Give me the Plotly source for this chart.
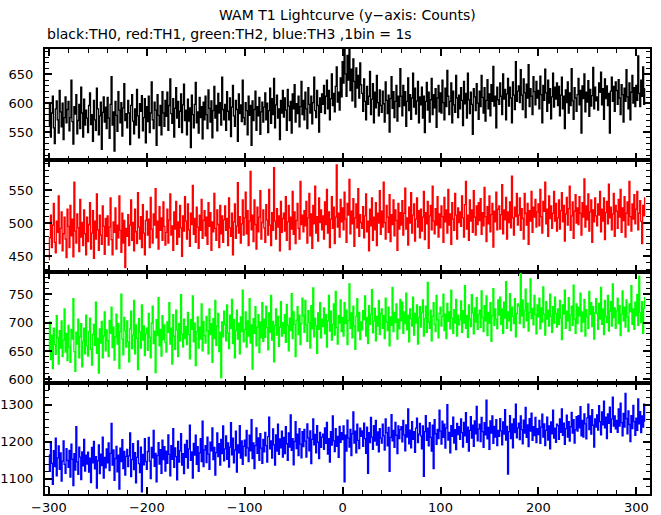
import plotly.graph_objects as go
from plotly.subplots import make_subplots

t_start = -300  # first 1 s bin

th0 = [
560, 598, 541, 583, 612, 557, 530, 590, 604, 571, 548, 622, 585, 559, 600, 537, 575, 611, 566, 589,
603, 552, 575, 640, 568, 529, 594, 581, 615, 547, 570, 598, 556, 628, 583, 541, 607, 562, 588, 574,
549, 596, 618, 563, 580, 534, 605, 571, 553, 626, 590, 545, 578, 602, 520, 584, 611, 567, 593, 556,
610, 574, 539, 598, 646, 562, 585, 517, 603, 579, 551, 620, 588, 566, 601, 543, 592, 634, 570, 582,
557, 605, 583, 528, 596, 615, 569, 547, 590, 562, 624, 578, 540, 599, 586, 613, 552, 575, 608, 531,
594, 568, 612, 549, 583, 637, 571, 556, 602, 588, 527, 615, 579, 561, 596, 545, 620, 583, 560, 605,
577, 619, 553, 596, 642, 582, 565, 608, 541, 591, 627, 574, 603, 558, 586, 616, 549, 597, 633, 570,
588, 545, 607, 569, 592, 523, 614, 580, 557, 598, 636, 566, 585, 548, 610, 575, 594, 538, 602, 571,
612, 580, 556, 623, 591, 567, 604, 540, 587, 629, 574, 596, 552, 617, 583, 601, 562, 645, 589, 571,
598, 553, 620, 586, 571, 609, 542, 593, 631, 578, 560, 605, 589, 534, 616, 582, 597, 568, 640, 575,
563, 601, 587, 545, 612, 579, 596, 527, 604, 570, 589, 621, 553, 594, 578, 610, 546, 585, 602, 567,
593, 618, 571, 600, 549, 587, 626, 565, 608, 580, 643, 557, 597, 614, 574, 590, 537, 605, 583, 622,
576, 609, 588, 553, 624, 595, 570, 603, 548, 616, 590, 632, 567, 599, 582, 612, 559, 594, 638, 580,
605, 571, 619, 590, 556, 627, 598, 583, 612, 564, 601, 645, 587, 575, 622, 596, 550, 609, 584, 616,
598, 631, 582, 612, 640, 590, 622, 571, 608, 651, 596, 617, 585, 629, 663, 602, 619, 588, 644, 611,
672, 635, 698, 651, 612, 683, 640, 700, 622, 659, 604, 677, 638, 593, 661, 626, 648, 609, 670, 632,
617, 586, 642, 603, 571, 629, 598, 612, 655, 580, 607, 634, 566, 619, 592, 648, 601, 578, 623, 596,
584, 621, 599, 567, 637, 605, 582, 614, 550, 608, 646, 591, 620, 575, 603, 631, 569, 612, 594, 660,
612, 578, 631, 596, 620, 560, 603, 644, 587, 615, 572, 609, 652, 593, 626, 581, 604, 638, 566, 611,
597, 628, 574, 612, 549, 603, 636, 588, 619, 567, 606, 643, 580, 615, 592, 625, 558, 609, 631, 585,
618, 583, 640, 601, 571, 626, 594, 657, 612, 580, 603, 635, 566, 621, 597, 584, 648, 609, 575, 614,
590, 627, 605, 561, 638, 599, 617, 574, 652, 606, 582, 619, 598, 546, 625, 611, 587, 634, 600, 572,
621, 594, 648, 610, 583, 627, 569, 605, 641, 590, 616, 578, 632, 603, 664, 595, 612, 557, 628, 606,
598, 635, 612, 580, 651, 607, 624, 571, 616, 643, 595, 628, 609, 566, 637, 614, 589, 672, 603, 621,
630, 601, 658, 614, 589, 642, 618, 575, 633, 609, 667, 594, 625, 612, 580, 646, 620, 597, 638, 609,
622, 590, 647, 615, 566, 631, 605, 659, 618, 586, 640, 600, 625, 573, 611, 652, 593, 628, 607, 635,
596, 629, 578, 614, 645, 590, 612, 556, 623, 601, 637, 583, 618, 596, 660, 604, 572, 627, 609, 586,
615, 643, 597, 622, 548, 630, 608, 651, 585, 619, 602, 639, 577, 624, 595, 613, 662, 590, 628, 604,
611, 588, 635, 619, 654, 597, 625, 572, 642, 608, 630, 596, 617, 548, 621, 645, 603, 629, 586, 637,
622, 598, 641, 609, 580, 632, 615, 567, 626, 603, 658, 611, 590, 635, 571, 619, 648, 600, 627, 594,
631, 605, 682, 617, 594, 640, 612, 663, 598, 625,
]

th1 = [
445, 478, 512, 463, 497, 530, 471, 455, 503, 486, 541, 469, 492, 517, 458, 484, 509, 476, 448, 521,
495, 463, 527, 481, 506, 449, 562, 488, 470, 514, 493, 457, 536, 479, 501, 466, 520, 484, 452, 509,
472, 498, 531, 461, 485, 519, 447, 503, 476, 544, 490, 459, 512, 482, 468, 526, 495, 453, 507, 480,
511, 467, 494, 538, 475, 452, 502, 486, 523, 461, 497, 478, 541, 489, 456, 515, 470, 504, 433, 492,
480, 513, 466, 497, 535, 474, 501, 458, 521, 487, 469, 546, 494, 476, 510, 463, 528, 485, 452, 504,
518, 482, 506, 463, 539, 491, 470, 514, 497, 552, 478, 503, 461, 525, 489, 508, 474, 532, 495, 467,
486, 521, 470, 505, 544, 482, 496, 459, 517, 491, 533, 468, 502, 479, 527, 493, 450, 511, 488, 540,
503, 476, 529, 490, 465, 515, 498, 557, 483, 507, 471, 524, 494, 462, 512, 489, 536, 477, 504, 519,
481, 509, 468, 531, 495, 516, 459, 502, 487, 545, 492, 474, 520, 498, 463, 527, 484, 511, 471, 505,
526, 489, 507, 466, 538, 493, 480, 515, 452, 502, 529, 477, 496, 561, 485, 510, 470, 499, 535, 482,
508, 547, 484, 519, 466, 503, 578, 490, 512, 472, 535, 498, 461, 524, 487, 509, 549, 476, 501, 520,
493, 471, 528, 505, 482, 551, 497, 466, 516, 489, 584, 503, 476, 522, 494, 511, 458, 533, 486, 507,
515, 488, 540, 474, 502, 527, 460, 509, 491, 548, 483, 517, 469, 504, 530, 492, 476, 563, 498, 512,
487, 519, 496, 533, 470, 508, 545, 481, 514, 462, 527, 499, 556, 485, 510, 473, 538, 501, 520, 490,
511, 476, 532, 498, 551, 485, 517, 463, 506, 540, 492, 524, 469, 509, 588, 494, 515, 479, 536, 502,
523, 490, 547, 506, 471, 530, 512, 566, 484, 518, 499, 537, 465, 508, 529, 493, 552, 480, 513, 501,
492, 525, 478, 511, 544, 487, 503, 458, 521, 496, 538, 474, 509, 490, 531, 466, 515, 500, 549, 483,
518, 494, 562, 501, 476, 527, 509, 486, 543, 472, 513, 498, 535, 481, 520, 504, 459, 530, 491, 516,
497, 534, 482, 515, 553, 491, 508, 467, 524, 500, 546, 485, 512, 529, 473, 506, 538, 494, 519, 478,
521, 488, 509, 548, 475, 516, 499, 533, 462, 511, 527, 490, 556, 503, 484, 522, 497, 540, 479, 514,
493, 526, 510, 471, 539, 502, 520, 485, 551, 497, 514, 468, 531, 506, 489, 545, 512, 476, 523, 501,
517, 495, 541, 508, 479, 528, 563, 491, 512, 474, 535, 503, 520, 486, 549, 509, 482, 526, 498, 531,
504, 537, 483, 516, 496, 554, 510, 472, 525, 499, 541, 487, 513, 530, 464, 518, 502, 547, 490, 521,
526, 491, 513, 558, 484, 520, 505, 539, 476, 517, 501, 532, 493, 571, 508, 482, 524, 510, 545, 497,
512, 538, 489, 522, 507, 476, 545, 515, 497, 530, 468, 519, 503, 548, 486, 524, 509, 536, 494, 517,
529, 496, 551, 510, 485, 533, 518, 562, 499, 521, 480, 541, 507, 526, 492, 515, 548, 503, 530, 488,
508, 535, 491, 519, 546, 502, 527, 473, 514, 539, 497, 522, 556, 489, 511, 532, 477, 518, 543, 500,
523, 498, 540, 515, 482, 531, 509, 567, 494, 526, 505, 544, 488, 517, 535, 471, 520, 502, 538, 511,
496, 529, 512, 548, 487, 521, 503, 538, 475, 516, 533, 499, 559, 508, 524, 490, 514, 545, 480, 527,
518, 492, 536, 509, 551, 486, 523, 504, 540, 479, 515, 532, 497, 563, 510, 488, 529, 506, 543, 499,
521, 548, 490, 515, 534, 503, 469, 527, 511, 538,
]

th2 = [
652, 701, 635, 678, 619, 690, 661, 644, 712, 673, 627, 686, 655, 703, 640, 669, 724, 648, 681, 633,
695, 657, 630, 688, 671, 742, 649, 614, 683, 662, 706, 638, 675, 698, 622, 667, 690, 645, 713, 659,
641, 684, 708, 653, 625, 679, 697, 660, 736, 646, 672, 611, 689, 664, 702, 638, 676, 719, 650, 687,
668, 640, 704, 681, 727, 656, 692, 634, 675, 715, 662, 698, 619, 684, 750, 671, 643, 709, 686, 657,
703, 666, 631, 689, 720, 654, 678, 739, 645, 696, 672, 617, 707, 683, 655, 731, 669, 694, 642, 680,
690, 651, 716, 674, 638, 699, 729, 663, 685, 612, 705, 677, 744, 659, 688, 641, 712, 670, 696, 665,
648, 701, 683, 735, 662, 690, 627, 714, 676, 653, 722, 687, 640, 698, 668, 749, 680, 657, 706, 672,
693, 661, 718, 679, 636, 705, 688, 747, 666, 699, 624, 684, 710, 655, 692, 671, 733, 650, 702, 677,
664, 711, 686, 645, 724, 679, 698, 630, 707, 672, 739, 660, 694, 716, 649, 683, 603, 701, 675, 720,
697, 668, 731, 682, 654, 713, 690, 741, 663, 705, 638, 686, 722, 671, 699, 645, 710, 684, 757, 666,
688, 719, 657, 703, 676, 742, 664, 696, 618, 707, 681, 728, 659, 692, 714, 647, 701, 673, 735, 667,
706, 674, 729, 691, 652, 717, 683, 748, 669, 702, 631, 695, 724, 678, 711, 658, 692, 737, 676, 700,
681, 714, 665, 732, 695, 650, 708, 686, 751, 672, 719, 697, 640, 704, 728, 679, 713, 661, 698, 743,
712, 683, 739, 696, 667, 721, 700, 655, 730, 689, 761, 675, 708, 694, 646, 717, 688, 735, 673, 706,
693, 726, 680, 714, 657, 703, 748, 685, 720, 669, 697, 733, 678, 755, 691, 662, 712, 699, 740, 684,
709, 676, 735, 698, 722, 661, 704, 768, 690, 717, 673, 729, 694, 653, 711, 742, 685, 718, 670, 701,
687, 721, 705, 747, 676, 709, 663, 730, 697, 715, 758, 682, 703, 725, 668, 711, 694, 739, 679, 716,
724, 690, 712, 672, 743, 701, 686, 727, 659, 710, 695, 762, 684, 718, 700, 733, 671, 706, 689, 741,
703, 736, 681, 719, 698, 752, 687, 713, 666, 724, 707, 694, 745, 678, 716, 699, 731, 662, 709, 728,
692, 718, 740, 676, 707, 729, 683, 771, 701, 690, 722, 668, 711, 735, 697, 684, 748, 705, 673, 716,
727, 694, 711, 750, 686, 715, 672, 734, 702, 719, 689, 757, 708, 681, 723, 699, 741, 676, 713, 696,
705, 738, 683, 721, 699, 765, 690, 712, 674, 731, 706, 693, 749, 717, 680, 726, 701, 744, 688, 714,
722, 691, 756, 709, 684, 730, 703, 747, 677, 718, 699, 735, 667, 712, 760, 695, 724, 706, 689, 740,
713, 745, 697, 724, 681, 736, 708, 772, 690, 719, 703, 751, 686, 727, 711, 698, 742, 675, 716, 733,
729, 698, 786, 712, 740, 691, 721, 759, 703, 734, 685, 718, 777, 707, 725, 696, 748, 714, 680, 731,
710, 743, 689, 726, 701, 763, 715, 678, 737, 706, 722, 694, 750, 711, 683, 728, 699, 745, 716, 692,
724, 697, 739, 708, 670, 731, 715, 757, 690, 720, 703, 744, 686, 713, 729, 695, 766, 706, 681, 733,
698, 727, 712, 752, 684, 719, 701, 741, 676, 723, 710, 690, 755, 714, 735, 693, 728, 671, 717, 742,
716, 688, 734, 706, 762, 697, 724, 679, 739, 711, 700, 748, 685, 720, 737, 694, 768, 709, 726, 690,
721, 743, 698, 730, 677, 715, 756, 703, 727, 692, 740, 710, 684, 733, 719, 765, 697, 724, 688, 736,
712, 749, 695, 782, 718, 700, 737, 681, 725, 744,
]

th3 = [
1165, 1120, 1198, 1142, 1085, 1176, 1133, 1210, 1108, 1157, 1189, 1126, 1170, 1094, 1148, 1203, 1139, 1115, 1182, 1150,
1131, 1177, 1105, 1194, 1153, 1082, 1168, 1124, 1241, 1146, 1112, 1186, 1159, 1098, 1173, 1135, 1207, 1121, 1164, 1140,
1172, 1118, 1156, 1090, 1185, 1143, 1201, 1127, 1160, 1075, 1149, 1192, 1114, 1167, 1136, 1213, 1102, 1158, 1130, 1181,
1143, 1197, 1122, 1169, 1250, 1137, 1178, 1096, 1155, 1188, 1119, 1164, 1072, 1183, 1147, 1206, 1128, 1174, 1110, 1161,
1180, 1133, 1162, 1224, 1106, 1152, 1195, 1125, 1171, 1089, 1158, 1203, 1141, 1117, 1186, 1065, 1166, 1138, 1209, 1147,
1126, 1174, 1212, 1148, 1101, 1185, 1157, 1231, 1134, 1169, 1092, 1163, 1198, 1140, 1179, 1115, 1205, 1152, 1187, 1121,
1175, 1142, 1219, 1166, 1108, 1190, 1153, 1236, 1131, 1184, 1160, 1097, 1201, 1145, 1176, 1222, 1137, 1168, 1114, 1193,
1158, 1204, 1129, 1181, 1245, 1150, 1173, 1102, 1196, 1164, 1218, 1139, 1187, 1120, 1170, 1209, 1147, 1256, 1133, 1178,
1190, 1144, 1213, 1167, 1126, 1199, 1176, 1238, 1152, 1185, 1110, 1171, 1224, 1160, 1195, 1137, 1207, 1168, 1243, 1149,
1181, 1216, 1153, 1197, 1132, 1186, 1252, 1165, 1210, 1143, 1178, 1229, 1118, 1192, 1170, 1244, 1156, 1203, 1139, 1188,
1205, 1162, 1231, 1184, 1147, 1218, 1176, 1260, 1155, 1197, 1128, 1190, 1238, 1169, 1211, 1150, 1222, 1183, 1142, 1207,
1173, 1226, 1190, 1145, 1214, 1267, 1181, 1203, 1156, 1235, 1192, 1137, 1219, 1175, 1248, 1166, 1208, 1184, 1229, 1159,
1212, 1168, 1241, 1195, 1150, 1224, 1186, 1273, 1177, 1209, 1138, 1201, 1255, 1182, 1221, 1163, 1236, 1194, 1157, 1228,
1187, 1234, 1202, 1159, 1249, 1211, 1176, 1230, 1141, 1207, 1262, 1192, 1220, 1170, 1244, 1199, 1155, 1226, 1185, 1213,
1221, 1180, 1238, 1196, 1253, 1167, 1209, 1145, 1228, 1191, 1270, 1203, 1174, 1236, 1188, 1215, 1158, 1242, 1199, 1225,
1206, 1243, 1092, 1218, 1175, 1259, 1210, 1186, 1234, 1163, 1222, 1281, 1197, 1229, 1170, 1248, 1204, 1182, 1237, 1215,
1230, 1188, 1251, 1209, 1169, 1240, 1115, 1225, 1198, 1266, 1213, 1180, 1244, 1202, 1258, 1191, 1227, 1173, 1236, 1210,
1197, 1248, 1216, 1178, 1262, 1225, 1189, 1239, 1120, 1212, 1274, 1203, 1231, 1185, 1253, 1218, 1168, 1243, 1209, 1233,
1241, 1200, 1258, 1219, 1176, 1246, 1213, 1289, 1195, 1232, 1184, 1255, 1207, 1228, 1172, 1237, 1264, 1198, 1221, 1250,
1216, 1181, 1243, 1107, 1228, 1271, 1204, 1237, 1189, 1252, 1212, 1175, 1245, 1128, 1260, 1222, 1193, 1234, 1209, 1286,
1229, 1194, 1256, 1212, 1248, 1183, 1237, 1301, 1205, 1226, 1170, 1244, 1215, 1267, 1197, 1233, 1179, 1250, 1220, 1241,
1207, 1262, 1225, 1186, 1253, 1216, 1279, 1199, 1240, 1175, 1231, 1268, 1210, 1245, 1188, 1257, 1222, 1296, 1203, 1235,
1248, 1201, 1266, 1228, 1185, 1252, 1219, 1313, 1208, 1239, 1180, 1257, 1224, 1270, 1196, 1242, 1213, 1260, 1190, 1231,
1215, 1263, 1230, 1192, 1254, 1221, 1287, 1205, 1242, 1113, 1228, 1271, 1209, 1249, 1184, 1262, 1225, 1302, 1211, 1238,
1251, 1206, 1270, 1233, 1195, 1259, 1224, 1293, 1212, 1246, 1187, 1263, 1229, 1278, 1204, 1241, 1217, 1266, 1198, 1236,
1220, 1258, 1196, 1240, 1275, 1213, 1249, 1190, 1231, 1267, 1205, 1243, 1181, 1254, 1222, 1286, 1210, 1237, 1199, 1248,
1244, 1207, 1262, 1226, 1289, 1218, 1251, 1193, 1236, 1272, 1213, 1255, 1202, 1241, 1280, 1224, 1260, 1197, 1233, 1268,
1229, 1271, 1238, 1295, 1216, 1258, 1213, 1276, 1249, 1208, 1265, 1302, 1233, 1270, 1221, 1287, 1245, 1186, 1262, 1240,
1273, 1232, 1298, 1255, 1219, 1281, 1246, 1310, 1238, 1267, 1209, 1276, 1250, 1294, 1226, 1262, 1321, 1243, 1270, 1235,
1258, 1226, 1289, 1243, 1305, 1252, 1216, 1277, 1240, 1331, 1263, 1222, 1284, 1247, 1201, 1271, 1236, 1299, 1255, 1218,
1264, 1231, 1316, 1249, 1282, 1225, 1270, 1240, 1302, 1256,
]

series = [th0, th1, th2, th3]
colors = ["#000000", "#ff0000", "#00ff00", "#0000ff"]
y_ranges = [[501, 694], [427, 595], [594, 790], [1059, 1360]]
y_dtick = [50, 50, 50, 100]
y_minor = [10, 10, 10, 20]

title_text = "WAM T1 Lightcurve (y\u2212axis: Counts)"
subtitle_text = "black:TH0, red:TH1, green:TH2, blue:TH3 ,1bin = 1s"

FONT = "DejaVu Sans, Liberation Sans, Arial, sans-serif"

fig = make_subplots(rows=4, cols=1, shared_xaxes=True, vertical_spacing=0)

for i, (ys, col) in enumerate(zip(series, colors)):
    xs = list(range(t_start, t_start + len(ys)))
    fig.add_trace(go.Scatter(x=xs, y=ys, mode="lines", line=dict(color=col, width=1.3, shape="hvh"),
                             showlegend=False, hoverinfo="skip"), row=i + 1, col=1)
    fig.update_yaxes(range=y_ranges[i], dtick=y_dtick[i], row=i + 1, col=1,
                     minor=dict(ticks="inside", dtick=y_minor[i], ticklen=4, tickwidth=1,
                                tickcolor="black", showgrid=False))

fig.update_xaxes(range=[-304, 314], dtick=100, tick0=0, ticks="inside", ticklen=7, tickwidth=2, tickcolor="black",
                 showline=True, linecolor="black", linewidth=2, mirror="allticks", showgrid=False, zeroline=False,
                 automargin=False, tickfont=dict(family=FONT, size=13, color="black"),
                 minor=dict(ticks="inside", dtick=20, ticklen=4, tickwidth=1, tickcolor="black", showgrid=False))
fig.update_yaxes(ticks="inside", ticklen=7, tickwidth=2, tickcolor="black",
                 showline=True, linecolor="black", linewidth=2, mirror="allticks", showgrid=False, zeroline=False,
                 automargin=False, tickfont=dict(family=FONT, size=13, color="black"), ticklabelstandoff=7)

fig.add_annotation(text=title_text, xref="paper", yref="paper", x=0.5, y=1, yshift=24, xanchor="center",
                   yanchor="bottom", showarrow=False, font=dict(family=FONT, size=14, color="black"))
fig.add_annotation(text=subtitle_text, xref="paper", yref="paper", x=0, y=1, yshift=5, xanchor="left",
                   yanchor="bottom", showarrow=False, font=dict(family=FONT, size=14, color="black"))

fig.update_layout(width=661, height=515, margin=dict(l=45, r=11, t=49, b=21),
                  plot_bgcolor="white", paper_bgcolor="white", font=dict(family=FONT, size=13, color="black"))

# remove the default page margin so the figure fills the window exactly
fig.write_html("out.html", config={"displayModeBar": False},
               post_script="document.body.style.margin='0';document.body.style.overflow='hidden';")
